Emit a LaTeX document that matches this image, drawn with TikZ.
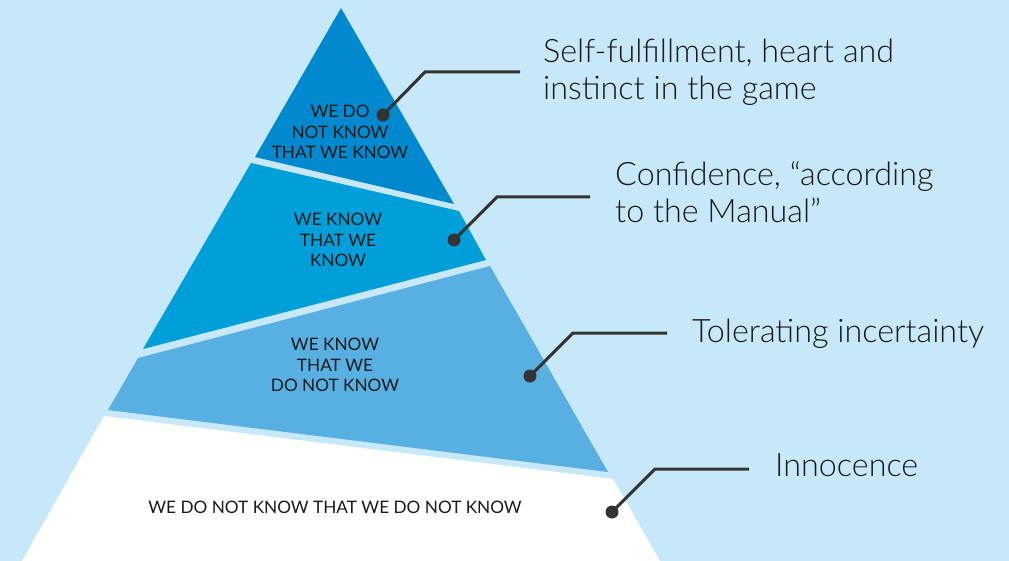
\documentclass[tikz,border=0pt]{standalone}
\usepackage{fontspec}
\setmainfont{Lato}[UprightFont=* Light]
\newfontfamily\pyrfont{Lato}
\definecolor{bgblue}{HTML}{C6E8F8}
\definecolor{bandA}{HTML}{0089CF}
\definecolor{bandB}{HTML}{009FDA}
\definecolor{bandC}{HTML}{58B0E2}
\definecolor{leadgray}{HTML}{333333}
\definecolor{txtdark}{HTML}{1A1A1A}
\tikzset{
  band/.style={draw=none},
  pyrtext/.style={font=\pyrfont\fontsize{17.2}{20.5}\selectfont, text=txtdark, align=center, inner sep=0pt},
  sidelabel/.style={font=\fontsize{32.3}{37}\selectfont, text=txtdark, align=left, inner sep=0pt, anchor=base west},
  leaddot/.style={circle, fill=leadgray, minimum size=13pt, inner sep=0pt},
  leader/.style={draw=leadgray, line width=3pt, line join=miter},
}
\begin{document}
\begin{tikzpicture}[x=1pt,y=-1pt]
\useasboundingbox (0,0) rectangle (1009,561);
\fill[bgblue] (0,0) rectangle (1009,561);
% bands
\fill[bandA] (341,8) -- (454,204) -- (255,157) -- cycle;
\fill[bandB] (251,163) -- (459,211) -- (486,260) -- (143,349) -- cycle;
\fill[bandC] (138,358) -- (490,266) -- (608,472) -- (108,410) -- cycle;
\fill[white] (104,416) -- (613,479) -- (660,561) -- (22,561) -- cycle;
% pyramid texts
\node[pyrtext] (t1) at (340,132) {WE DO\\NOT KNOW\\THAT WE KNOW};
\node[pyrtext] (t2) at (338,240) {WE KNOW\\THAT WE\\KNOW};
\node[pyrtext] (t3) at (335,365) {WE KNOW\\THAT WE\\DO NOT KNOW};
\node[pyrtext] (t4) at (335,507) {WE DO NOT KNOW THAT WE DO NOT KNOW};
% dots
\node[leaddot] (d1) at (383,115) {};
\node[leaddot] (d2) at (454,240) {};
\node[leaddot] (d3) at (530,376) {};
\node[leaddot] (d4) at (612,512) {};
% elbows and ends
\coordinate (e1) at (425,72);  \coordinate (f1) at (520,72);
\coordinate (e2) at (497,197); \coordinate (f2) at (590,197);
\coordinate (e3) at (573,333); \coordinate (f3) at (667,333);
\coordinate (e4) at (655,469); \coordinate (f4) at (749,469);
\draw[leader] (d1.center) -- (e1) -- (f1);
\draw[leader] (d2.center) -- (e2) -- (f2);
\draw[leader] (d3.center) -- (e3) -- (f3);
\draw[leader] (d4.center) -- (e4) -- (f4);
% labels
\node[sidelabel] (l1) at (543,100) {Self-fulfillment, heart and\\instinct in the game};
\node[sidelabel] (l2) at (615,223) {Confidence, “according\\to the Manual”};
\node[sidelabel] (l3) at (692,342) {Tolerating incertainty};
\node[sidelabel] (l4) at (775,476) {Innocence};
\end{tikzpicture}
\end{document}
